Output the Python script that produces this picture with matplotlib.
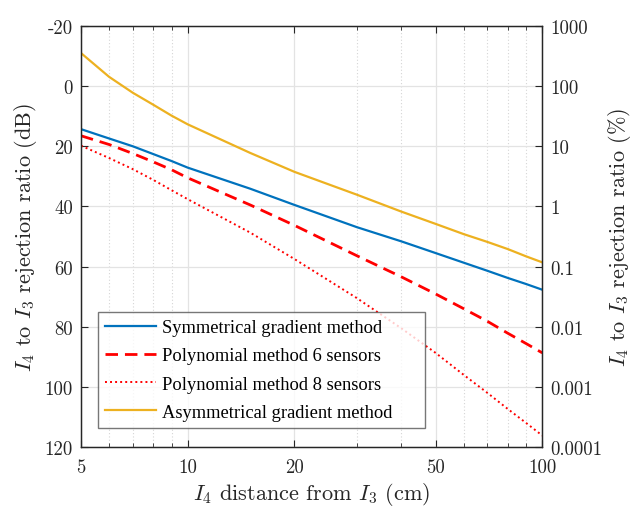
import matplotlib
matplotlib.use("Agg")
import matplotlib.pyplot as plt
from matplotlib.ticker import FixedLocator, NullFormatter
import numpy as np

# distance of I4 from I3 (cm)
dist = [5, 6, 7, 8, 9, 10, 15, 20, 30, 40, 50, 60, 70, 80, 90, 100]

# rejection ratio in dB
sym_grad = [14.3, 17.4, 20.0, 22.6, 24.9, 27.1, 34.1, 39.5, 46.9, 51.6, 55.5, 58.7, 61.4, 63.8, 65.8, 67.7]
poly6 = [16.5, 19.4, 22.4, 25.2, 27.8, 30.5, 39.5, 46.3, 56.4, 63.4, 69.1, 74.0, 78.2, 82.2, 85.6, 88.7]
poly8 = [19.8, 23.9, 27.6, 31.2, 34.6, 37.6, 48.7, 57.5, 70.5, 80.5, 88.7, 96.0, 102.0, 107.4, 112.0, 116.2]
asym_grad = [-11.0, -3.1, 2.2, 6.2, 9.8, 12.7, 22.2, 28.5, 36.1, 41.7, 45.8, 49.2, 51.8, 54.2, 56.6, 58.6]

labels = ["Symmetrical gradient method", "Polynomial method 6 sensors",
          "Polynomial method 8 sensors", "Asymmetrical gradient method"]

x_ticks = [5, 10, 20, 50, 100]
x_minor = [6, 7, 8, 9, 30, 40, 60, 70, 80, 90]
db_ticks = [-20, 0, 20, 40, 60, 80, 100, 120]
pct_ticks = [1000, 100, 10, 1, 0.1, 0.01, 0.001, 0.0001]
pct_labels = ["1000", "100", "10", "1", "0.1", "0.01", "0.001", "0.0001"]

plt.rcParams["font.family"] = "cmr10"
plt.rcParams["mathtext.fontset"] = "cm"
plt.rcParams["axes.unicode_minus"] = False

fig = plt.figure(figsize=(6.38, 5.10), dpi=100)
ax = fig.add_axes([0.127, 0.1216, 0.723, 0.8254])

blue = "#0072BD"
yellow = "#EDB120"
red = "#FF0000"

ax.plot(dist, sym_grad, color=blue, lw=1.6, label=labels[0])
ax.plot(dist, poly6, color=red, lw=2.0, dashes=(4.5, 2.5), label=labels[1])
ax.plot(dist, poly8, color=red, lw=1.4, linestyle=(0, (1, 1.6)), label=labels[2])
ax.plot(dist, asym_grad, color=yellow, lw=1.6, label=labels[3])

ax.set_xscale("log")
ax.set_xlim(5, 100)
ax.set_ylim(120, -20)
ax.xaxis.set_major_locator(FixedLocator(x_ticks))
ax.xaxis.set_minor_locator(FixedLocator(x_minor))
ax.xaxis.set_minor_formatter(NullFormatter())
ax.set_xticklabels([str(t) for t in x_ticks])
ax.set_yticks(db_ticks)
ax.set_yticklabels([str(t) for t in db_ticks])

ax.grid(True, which="major", color="#e3e3e3", lw=0.9)
ax.grid(True, which="minor", axis="x", color="#d5d5d5", lw=0.8, linestyle=(0, (1, 2)))
ax.set_axisbelow(True)

for sp in ax.spines.values():
    sp.set_color("#262626")
    sp.set_linewidth(0.9)
ax.tick_params(which="both", direction="in", top=True, colors="#262626", labelsize=13.5, pad=6)
ax.tick_params(axis="x", which="both", pad=8)
ax.tick_params(which="major", length=5)
ax.tick_params(which="minor", length=3)
ax.tick_params(axis="y", right=False)

ax.set_xlabel(r"$I_4$ distance from $I_3$ (cm)", fontsize=16, color="#262626", labelpad=3)
ax.set_ylabel(r"$I_4$ to $I_3$ rejection ratio (dB)", fontsize=16, color="#262626", labelpad=4)

# right axis: same scale expressed as percentage
ax2 = ax.twinx()
ax2.set_yscale("log")
ax2.set_ylim(0.0001, 1000)
ax2.yaxis.set_major_locator(FixedLocator(pct_ticks))
ax2.set_yticklabels(pct_labels)
ax2.yaxis.set_minor_locator(FixedLocator([]))
ax2.tick_params(which="both", direction="in", colors="#262626", labelsize=13.5, pad=6, length=5)
for sp in ax2.spines.values():
    sp.set_color("#262626")
    sp.set_linewidth(0.9)
ax2.set_ylabel(r"$I_4$ to $I_3$ rejection ratio (%)", fontsize=16, color="#262626", labelpad=2)

leg = ax.legend(loc="lower left", bbox_to_anchor=(0.037, 0.045, 0.709, 0.2), mode="expand", borderaxespad=0,
                prop={"family": "Liberation Serif", "size": 13.3},
                frameon=True, fancybox=False, edgecolor="#555555", handlelength=2.75, borderpad=0.4,
                labelspacing=0.6, handletextpad=0.3)
leg.get_frame().set_linewidth(1.0)

fig.savefig("out.png", dpi=100)
